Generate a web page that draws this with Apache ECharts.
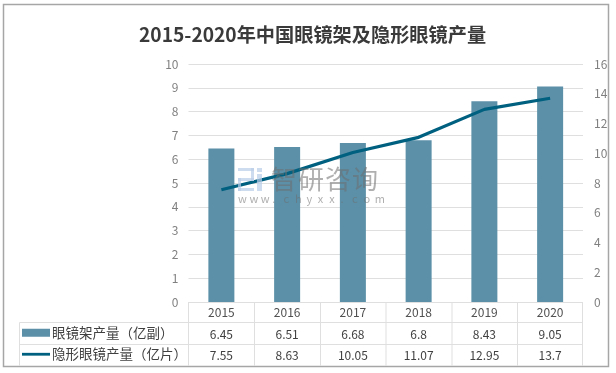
<!DOCTYPE html>
<html>
<head>
<meta charset="utf-8">
<style>
    html, body { margin: 0; padding: 0; background: #fff; }
    #chart { width: 616px; height: 373px; }
</style>
<script src="https://cdn.jsdelivr.net/npm/echarts@6/dist/echarts.min.js"></script>
</head>
<body>
<div id="chart"></div>
<script>
const years = ['2015', '2016', '2017', '2018', '2019', '2020']
const frames = [6.45, 6.51, 6.68, 6.8, 8.43, 9.05]
const lenses = [7.55, 8.63, 10.05, 11.07, 12.95, 13.7]
const framesText = ['6.45', '6.51', '6.68', '6.8', '8.43', '9.05']
const lensesText = ['7.55', '8.63', '10.05', '11.07', '12.95', '13.7']
const titleText = '2015-2020年中国眼镜架及隐形眼镜产量'
const framesName = '眼镜架产量（亿副）'
const lensesName = '隐形眼镜产量（亿片）'

const font = '"Noto Sans CJK SC", "Open Sans", sans-serif'
const gridColor = '#dfdfdf'
const plot = { left: 188.5, right: 583, top: 64, bottom: 302 }

// 底部数据表的框线
function tableLines() {
    const lines = []
    const colX = [188.5, 254.5, 320.5, 386, 452, 517.5, 582.5]
    colX.forEach(x => lines.push([x, 302, x, 366]))
    ;[322.5, 344.5].forEach(y => lines.push([19.5, y, 582.5, y]))
    lines.push([19.5, 322.5, 19.5, 366])
    return lines.map(l => ({
        type: 'line',
        silent: true,
        shape: { x1: l[0], y1: l[1], x2: l[2], y2: l[3] },
        style: { stroke: gridColor, lineWidth: 1 }
    }))
}

// 水印
function watermark() {
    const logo = [
        [238, 168, 16, 3], [251, 168, 3, 13], [238, 178, 16, 3], [238, 178, 3, 13], [238, 188, 16, 3],
        [257, 168, 5, 4], [257, 174, 5, 17]
    ]
    const items = logo.map(r => ({
        type: 'rect',
        silent: true,
        z: 20,
        shape: { x: r[0], y: r[1], width: r[2], height: r[3] },
        style: { fill: 'rgba(185,205,232,0.7)' }
    }))
    '智研咨询'.split('').forEach((c, i) => items.push({
        type: 'text', silent: true, z: 20, left: 271 + i * 27, top: 166,
        style: { text: c, font: '26px ' + font, fill: 'rgba(110,110,110,0.55)' }
    }))
    'www.chyxx.com'.split('').forEach((c, i) => items.push({
        type: 'text', silent: true, z: 20, left: 238 + i * 11.4, top: 193,
        style: { text: c, font: '11px ' + font, fill: 'rgba(110,110,110,0.55)' }
    }))
    return items
}

const tableAxis = (data, offset, color) => ({
    type: 'category',
    gridIndex: 0,
    position: 'bottom',
    offset: offset,
    data: data,
    axisLine: { show: false },
    axisTick: { show: false },
    axisLabel: { color: color, fontSize: 12, fontFamily: font, margin: 4, interval: 0 }
})

const myCharts = echarts.init(document.getElementById('chart'), null, { renderer: 'canvas' })
myCharts.setOption({
    animation: false,
    backgroundColor: '#fff',
    title: {
        text: titleText,
        left: 139,
        top: 25,
        padding: 0,
        textStyle: { fontFamily: font, fontSize: 19.2, fontWeight: 'bold', color: '#3a3a3a' }
    },
    grid: { left: plot.left, top: plot.top, width: plot.right - plot.left, height: plot.bottom - plot.top },
    legend: {
        orient: 'vertical',
        left: 22,
        top: 326,
        itemWidth: 28,
        itemHeight: 8,
        itemGap: 8,
        padding: 0,
        textStyle: { fontFamily: font, fontSize: 13.5, color: '#404040', padding: [0, 0, 0, -3] },
        data: [
            { name: framesName, icon: 'rect' },
            { name: lensesName, icon: 'path://M0,0 L0,0 M0,2.6 H28 V5.4 H0 Z M0,8 L0,8' }
        ]
    },
    xAxis: [
        tableAxis(years, 0, '#505050'),
        tableAxis(framesText, 22, '#404040'),
        tableAxis(lensesText, 43.5, '#404040')
    ],
    yAxis: [
        {
            type: 'value',
            min: 0,
            max: 10,
            interval: 1,
            axisLine: { show: false },
            axisTick: { show: false },
            axisLabel: { color: '#808080', fontSize: 12, fontFamily: font, margin: 10 },
            splitLine: { lineStyle: { color: gridColor, width: 1 } }
        },
        {
            type: 'value',
            min: 0,
            max: 16,
            interval: 2,
            position: 'right',
            axisLine: { show: false },
            axisTick: { show: false },
            axisLabel: { color: '#808080', fontSize: 12, fontFamily: font, margin: 11 },
            splitLine: { show: false }
        }
    ],
    series: [
        {
            name: framesName,
            type: 'bar',
            data: frames,
            barWidth: 26,
            itemStyle: { color: '#5b90a8' }
        },
        {
            name: lensesName,
            type: 'line',
            yAxisIndex: 1,
            data: lenses,
            symbol: 'none',
            lineStyle: { color: '#00607f', width: 3.2 },
            itemStyle: { color: '#00607f' }
        }
    ],
    graphic: [
        {
            type: 'rect',
            silent: true,
            z: -1,
            shape: { x: 3.5, y: 4.5, width: 605, height: 362 },
            style: { fill: 'none', stroke: '#a6a6a6', lineWidth: 1.5 }
        }
    ].concat(tableLines(), watermark())
})
</script>
</body>
</html>
